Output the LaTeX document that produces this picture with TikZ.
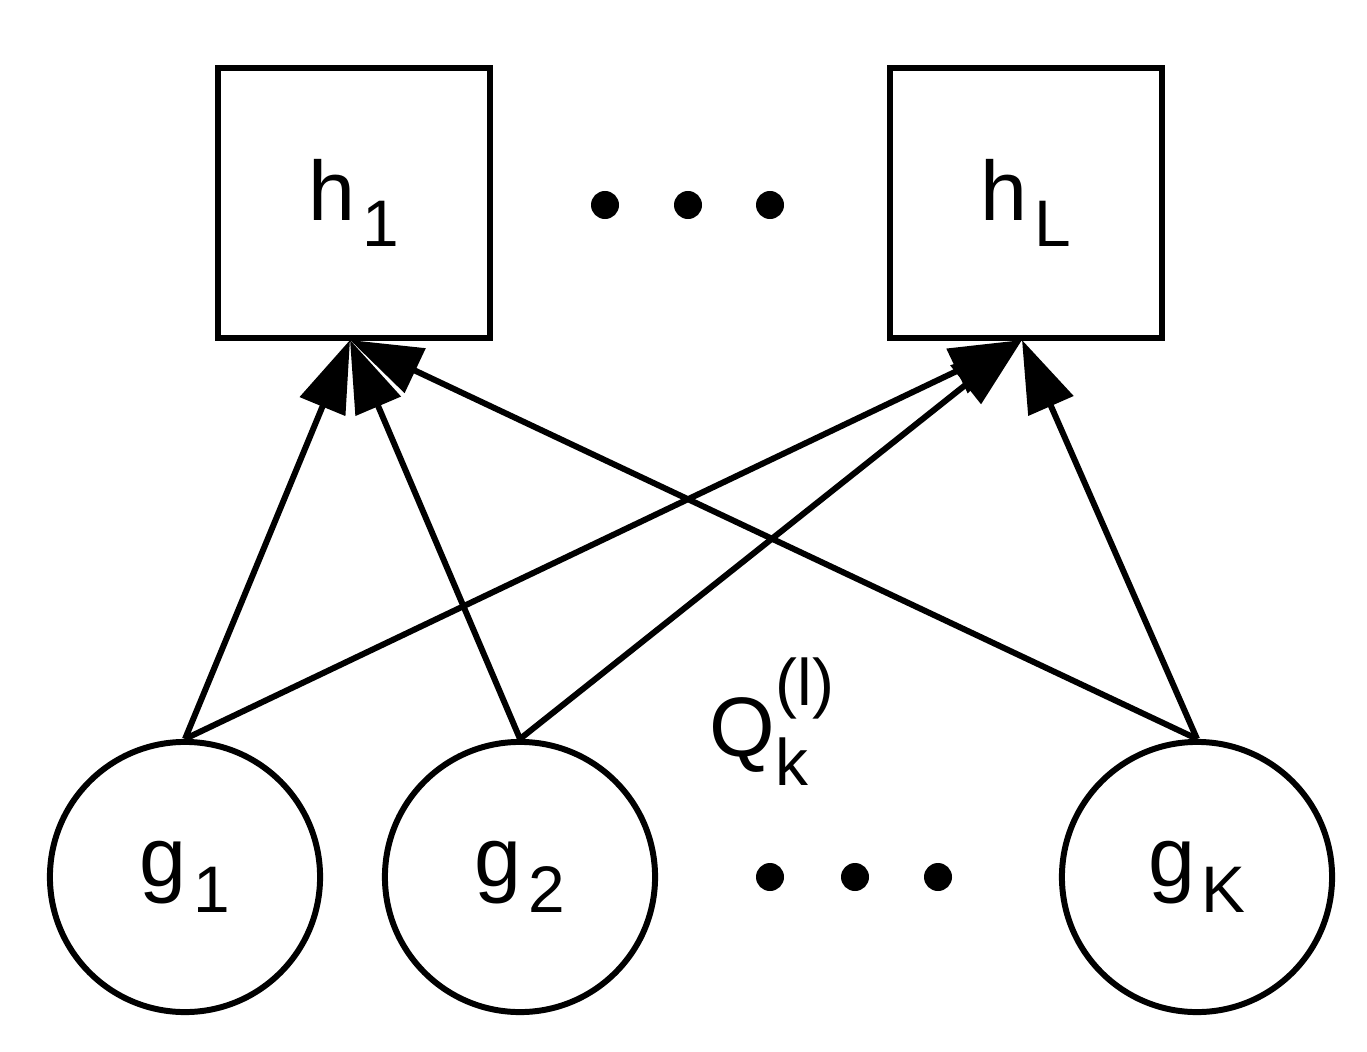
\documentclass[tikz,border=0pt]{standalone}
\usepackage{fontspec}
\setmainfont{Liberation Sans}
\usetikzlibrary{arrows.meta}
\newcommand{\mysb}[1]{\kern0.08em\raisebox{-0.3em}{\scalebox{0.78}{#1}}}
\begin{document}
\begin{tikzpicture}[x=0.01cm,y=-0.01cm,
  every node/.style={font=\fontsize{24}{28}\selectfont},
  box/.style={draw,line width=1.7pt,minimum width=2.72cm,minimum height=2.7cm,inner sep=0pt},
  circ/.style={draw,circle,line width=1.7pt,minimum size=2.7cm,inner sep=0pt},
  arr/.style={line width=1.7pt,-{Triangle[length=0.72cm,width=0.48cm]}},
  dot/.style={fill,circle,minimum size=0.28cm,inner sep=0pt}]
\useasboundingbox (0,0) rectangle (1367,1052);
\node[box] (h1) at (354,203) {h\mysb{1}};
\node[box] (hL) at (1026,203) {h\mysb{L}};
\node[circ] (g1) at (185,877) {g\mysb{1}};
\node[circ] (g2) at (520,877) {g\mysb{2}};
\node[circ] (gK) at (1197,877) {g\mysb{K}};
\foreach \x [count=\i] in {605,688,770} \node[dot] (td\i) at (\x,205) {};
\foreach \x [count=\i] in {770,855,938} \node[dot] (bd\i) at (\x,877) {};
\coordinate (a1) at (350,340);
\coordinate (aL) at (1022,340);
\draw[arr] (g1.north) -- (a1);
\draw[arr] (g2.north) -- (a1);
\draw[arr] (gK.north) -- (a1);
\draw[arr] (g1.north) -- (aL);
\draw[arr] (g2.north) -- (aL);
\draw[arr] (gK.north) -- (aL);
\node (q) at (772,722) {Q\makebox[0pt][l]{\raisebox{-0.35em}{\scalebox{0.78}{k}}}\raisebox{0.6em}{\scalebox{0.78}{(l)}}};
\end{tikzpicture}
\end{document}
